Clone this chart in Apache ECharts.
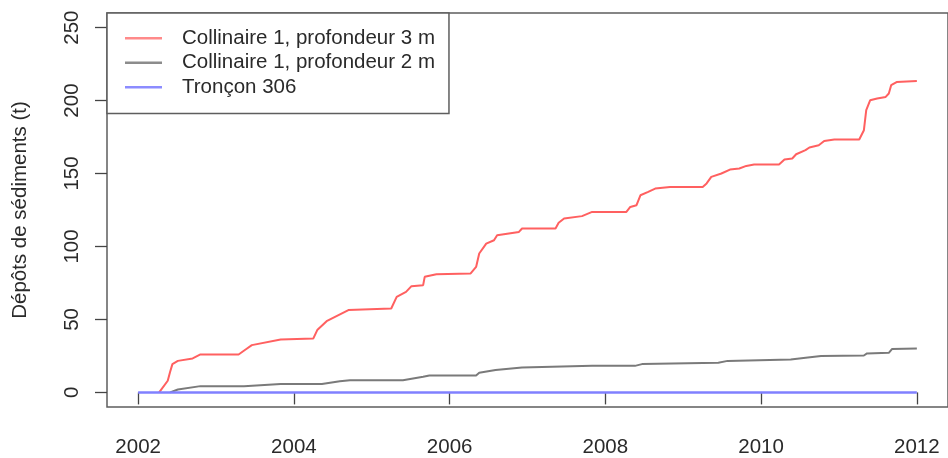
<!DOCTYPE html>
<html>
<head>
<meta charset="utf-8">
<script src="https://cdn.jsdelivr.net/npm/echarts@6/dist/echarts.min.js"></script>
<style>
html,body{margin:0;padding:0;background:#fff;}
#chart{width:948px;height:458px;}
</style>
</head>
<body>
<div id="chart"></div>
<script>
const seriesNames = ['Collinaire 1, profondeur 3 m', 'Collinaire 1, profondeur 2 m', 'Tronçon 306'];
const xTicks = [2002, 2004, 2006, 2008, 2010, 2012];
const yTicks = [0, 50, 100, 150, 200, 250];

const redYears = [2002.27,2002.38,2002.41,2002.44,2002.51,2002.70,2002.80,2003.29,2003.38,2003.46,2003.83,2004.25,2004.30,2004.42,2004.70,2005.25,2005.32,2005.44,2005.51,2005.66,2005.68,2005.83,2006.27,2006.34,2006.38,2006.47,2006.57,2006.61,2006.89,2006.93,2007.36,2007.40,2007.47,2007.70,2007.83,2008.27,2008.32,2008.40,2008.45,2008.55,2008.64,2008.83,2009.25,2009.30,2009.36,2009.49,2009.60,2009.72,2009.81,2009.91,2010.23,2010.30,2010.40,2010.45,2010.57,2010.62,2010.74,2010.81,2010.94,2011.26,2011.32,2011.35,2011.40,2011.49,2011.60,2011.64,2011.67,2011.74,2012.00];
const redValues = [0,8,14,19.4,21.6,23.3,26,26,29.4,32.4,36.3,37,42.7,48.8,56.4,57.5,65.5,68.9,72.8,73.5,79.2,81,81.5,86,95.2,102,104.3,107.7,110,112.3,112.3,116.2,119.2,120.8,123.7,123.7,127.1,128.3,135.1,137.4,139.7,140.8,140.8,143.2,147.7,150,152.7,153.4,155.2,156.2,156.2,159.6,160.3,163.2,166,167.8,169.4,172.3,173.3,173.3,179.7,193.4,200.2,201.4,202.5,204.8,210.5,212.7,213.4];

const grayYears = [2002.41,2002.51,2002.80,2003.36,2003.83,2004.36,2004.59,2004.72,2005.40,2005.66,2005.74,2006.34,2006.38,2006.59,2006.93,2007.83,2008.38,2008.47,2009.45,2009.57,2010.38,2010.60,2010.77,2011.32,2011.36,2011.64,2011.68,2012.00];
const grayValues = [0,2,4.3,4.3,5.7,5.7,7.7,8.4,8.4,10.7,11.6,11.6,13.4,15.3,17.1,18.2,18.2,19.4,20.3,21.6,22.6,24,24.9,25.3,26.7,27.1,29.7,30.1];

const blueYears = [2002.0, 2012.0];
const blueValues = [0, 0];

function pairs(xs, ys) { return xs.map((x, i) => [x, ys[i]]); }

const FONT = '"Liberation Sans", Arial, sans-serif';
const chart = echarts.init(document.getElementById('chart'));
chart.setOption({
  animation: false,
  backgroundColor: '#fff',
  grid: {
    left: 107, top: 13, right: -3, bottom: 51,
    show: true, borderColor: '#5e5e5e', borderWidth: 1.5, backgroundColor: 'transparent'
  },
  xAxis: {
    type: 'value', min: 2001.6, max: 2012.4,
    splitLine: { show: false },
    axisLine: { show: false },
    axisTick: { show: true, customValues: xTicks, length: 12, inside: false, lineStyle: { color: '#444', width: 1.3 } },
    axisLabel: { customValues: xTicks, margin: 30, fontSize: 20.5, fontFamily: FONT, color: '#2a2a2a', formatter: v => String(Math.round(v)) }
  },
  yAxis: {
    type: 'value', min: -10, max: 260,
    name: 'Dépôts de sédiments (t)', nameLocation: 'middle', nameRotate: 90, nameGap: 76,
    nameTextStyle: { fontSize: 20.5, fontFamily: FONT, color: '#2a2a2a' },
    splitLine: { show: false },
    axisLine: { show: false },
    axisTick: { show: true, customValues: yTicks, length: 12, inside: false, lineStyle: { color: '#444', width: 1.3 } },
    axisLabel: { customValues: yTicks, rotate: 90, margin: 24, fontSize: 20.5, fontFamily: FONT, color: '#2a2a2a', formatter: v => String(Math.round(v)) }
  },
  legend: {
    orient: 'vertical', left: 107, top: 13,
    padding: [13, 14, 14, 18],
    itemGap: 0, itemWidth: 37, itemHeight: 2.5,
    icon: 'rect',
    backgroundColor: '#fff',
    borderColor: '#5e5e5e', borderWidth: 1.5,
    textStyle: { fontSize: 20.5, fontFamily: FONT, color: '#2a2a2a', lineHeight: 24.5, padding: [0, 0, 0, 15] },
    data: [
      { name: seriesNames[0], itemStyle: { color: '#ff8a8a' } },
      { name: seriesNames[1], itemStyle: { color: '#8c8c8c' } },
      { name: seriesNames[2], itemStyle: { color: '#8c8cff' } }
    ]
  },
  series: [
    { name: seriesNames[0], type: 'line', symbol: 'none', data: pairs(redYears, redValues), lineStyle: { color: '#ff6060', width: 2 }, itemStyle: { color: '#ff6060' } },
    { name: seriesNames[1], type: 'line', symbol: 'none', data: pairs(grayYears, grayValues), lineStyle: { color: '#7a7a7a', width: 2 }, itemStyle: { color: '#7a7a7a' } },
    { name: seriesNames[2], type: 'line', symbol: 'none', data: pairs(blueYears, blueValues), lineStyle: { color: '#8080ff', width: 2.5 }, itemStyle: { color: '#8080ff' } }
  ]
});
</script>
</body>
</html>
